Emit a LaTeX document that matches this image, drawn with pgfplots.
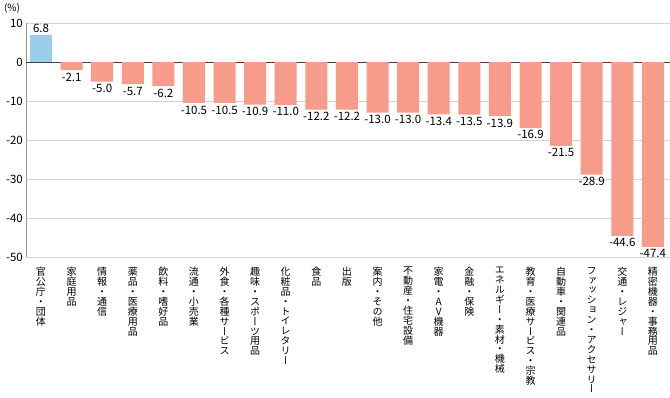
\documentclass[border=0pt]{standalone}
\usepackage{pgfplots}
\pgfplotsset{compat=1.18}
\usepackage{fontspec}
\setmainfont{Noto Sans CJK JP}
\newfontfamily\vfont[RawFeature={+vert}]{Noto Sans CJK JP}
\definecolor{barblue}{RGB}{152,206,234}
\definecolor{barsalmon}{RGB}{247,155,139}
\definecolor{gridgray}{RGB}{212,212,212}
\definecolor{axisgray}{RGB}{150,150,150}
\ExplSyntaxOn
\NewDocumentCommand\vstack{m}{\tl_map_inline:nn {#1} { ##1 \\ }}
\ExplSyntaxOff
\begin{document}
\begin{tikzpicture}
\begin{axis}[
  name=ax,
  scale only axis,
  width=644pt, height=234pt,
  xmin=-0.49, xmax=20.56,
  ymin=-50, ymax=10,
  ytick={-50,-40,-30,-20,-10,0,10},
  ymajorgrids,
  grid style={gridgray, line width=0.8pt},
  extra y ticks={0},
  extra y tick labels={},
  extra y tick style={grid style={black!75, line width=1pt}},
  axis lines*=left,
  x axis line style={draw=none},
  y axis line style={axisgray, line width=1pt},
  tick style={draw=none},
  major tick length=0pt,
  xtick={0,...,20},
  xticklabels={
    {\vstack{官公庁・団体}},
    {\vstack{家庭用品}},
    {\vstack{情報・通信}},
    {\vstack{薬品・医療用品}},
    {\vstack{飲料・嗜好品}},
    {\vstack{流通・小売業}},
    {\vstack{外食・各種サービス}},
    {\vstack{趣味・スポーツ用品}},
    {\vstack{化粧品・トイレタリー}},
    {\vstack{食品}},
    {\vstack{出版}},
    {\vstack{案内・その他}},
    {\vstack{不動産・住宅設備}},
    {\vstack{家電・AV機器}},
    {\vstack{金融・保険}},
    {\vstack{エネルギー・素材・機械}},
    {\vstack{教育・医療サービス・宗教}},
    {\vstack{自動車・関連品}},
    {\vstack{ファッション・アクセサリー}},
    {\vstack{交通・レジャー}},
    {\vstack{精密機器・事務用品}}
  },
  xticklabel style={font=\vfont\fontsize{10}{9.9}\selectfont, align=center, anchor=north, inner sep=0pt, yshift=-10pt},
  yticklabel style={font=\fontsize{11.5}{12}\selectfont, inner sep=0pt, xshift=-3pt},
  /pgf/number format/assume math mode=true,
  ybar, bar width=22pt,
  nodes near coords={\pgfmathprintnumber[fixed,fixed zerofill,precision=1,assume math mode=true]{\pgfplotspointmeta}},
  every node near coord/.append style={font=\fontsize{11.5}{12}\selectfont, inner sep=2.5pt, black},
  clip=false,
]
\addplot[draw=none, fill=barblue, bar shift=0pt] coordinates {(0,6.8)};
\addplot[draw=none, fill=barsalmon, bar shift=0pt] coordinates {
  (1,-2.1) (2,-5.0) (3,-5.7) (4,-6.2) (5,-10.5) (6,-10.5) (7,-10.9)
  (8,-11.0) (9,-12.2) (10,-12.2) (11,-13.0) (12,-13.0) (13,-13.4)
  (14,-13.5) (15,-13.9) (16,-16.9) (17,-21.5) (18,-28.9) (19,-44.6) (20,-47.4)};
\end{axis}
\node[font=\fontsize{10}{12}\selectfont] at ([xshift=-14pt,yshift=15pt]ax.north west) {(\%)};
\pgfresetboundingbox
\path ([xshift=-26pt,yshift=-140pt]ax.south west) rectangle ([yshift=23pt]ax.north east);
\end{tikzpicture}
\end{document}
